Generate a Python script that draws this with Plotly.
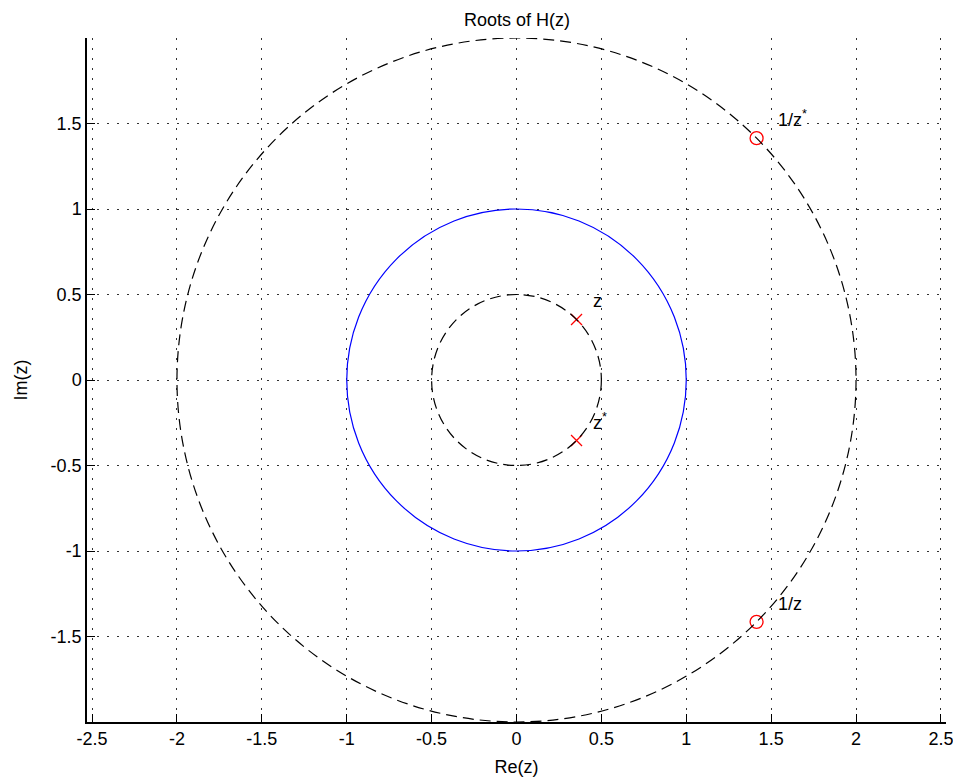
import plotly.graph_objects as go

# Data
pole_re = [0.3536, 0.3536]
pole_im = [0.3536, -0.3536]
zero_re = [1.4142, 1.4142]
zero_im = [1.4142, -1.4142]
circle_radii = [0.5, 1.0, 2.0]
circle_colors = ["black", "blue", "black"]
circle_dash = ["dash", "solid", "dash"]
label_text = ["z", "z<sup>*</sup>", "1/z<sup>*</sup>", "1/z"]
label_x = [0.44, 0.44, 1.53, 1.53]
label_y = [0.46, -0.24, 1.53, -1.31]
x_ticks = [-2.5, -2, -1.5, -1, -0.5, 0, 0.5, 1, 1.5, 2, 2.5]
x_tick_text = ["-2.5", "-2", "-1.5", "-1", "-0.5", "0", "0.5", "1", "1.5", "2", "2.5"]
y_ticks = [-1.5, -1, -0.5, 0, 0.5, 1, 1.5]
y_tick_text = ["-1.5", "-1", "-0.5", "0", "0.5", "1", "1.5"]

FONT = "Liberation Sans, Arial, sans-serif"
FS = 18

fig = go.Figure()

shapes = []
for r, c, d in zip(circle_radii, circle_colors, circle_dash):
    shapes.append(dict(type="circle", xref="x", yref="y", x0=-r, y0=-r, x1=r, y1=r,
                       line=dict(color=c, width=1.2, dash=("11px,6px" if d == "dash" else "solid"))))

fig.add_trace(go.Scatter(x=pole_re, y=pole_im, mode="markers",
                         marker=dict(symbol="x-thin", size=11, line=dict(color="red", width=1.3), color="red"),
                         showlegend=False, hoverinfo="skip"))
fig.add_trace(go.Scatter(x=zero_re, y=zero_im, mode="markers",
                         marker=dict(symbol="circle-open", size=13, color="red", line=dict(width=1.3)),
                         showlegend=False, hoverinfo="skip"))

annotations = []
for t, x, y in zip(label_text, label_x, label_y):
    annotations.append(dict(text=t, x=x, y=y, xref="x", yref="y", showarrow=False,
                            xanchor="left", yanchor="middle",
                            font=dict(family=FONT, size=FS, color="black")))
annotations.append(dict(text="Roots of H(z)", x=0.5, y=1, xref="paper", yref="paper",
                        yshift=6, showarrow=False, xanchor="center", yanchor="bottom",
                        font=dict(family=FONT, size=FS, color="black")))

grid = dict(showgrid=True, gridcolor="#333333", griddash="1.5px,8.5px", gridwidth=1.2)

fig.update_layout(
    width=953, height=774,
    margin=dict(l=79, r=8, t=30, b=59),
    paper_bgcolor="white", plot_bgcolor="white",
    shapes=shapes, annotations=annotations,
    font=dict(family=FONT, size=FS, color="black"),
    xaxis=dict(range=[-2.53, 2.53], tickvals=x_ticks, ticktext=x_tick_text, **grid,
               zeroline=False, showline=True, linecolor="black", linewidth=1.5,
               ticks="inside", ticklen=8, tickcolor="black", mirror=False,
               tickfont=dict(family=FONT, size=FS),
               title=dict(text="Re(z)", standoff=12, font=dict(family=FONT, size=FS))),
    yaxis=dict(range=[-2.0, 2.0], tickvals=y_ticks, ticktext=y_tick_text, **grid,
               zeroline=False, showline=True, linecolor="black", linewidth=1.5,
               ticks="inside", ticklen=8, tickcolor="black", mirror=False,
               tickfont=dict(family=FONT, size=FS),
               title=dict(text="Im(z)", standoff=18, font=dict(family=FONT, size=FS))),
)

fig.write_html("out.html")
